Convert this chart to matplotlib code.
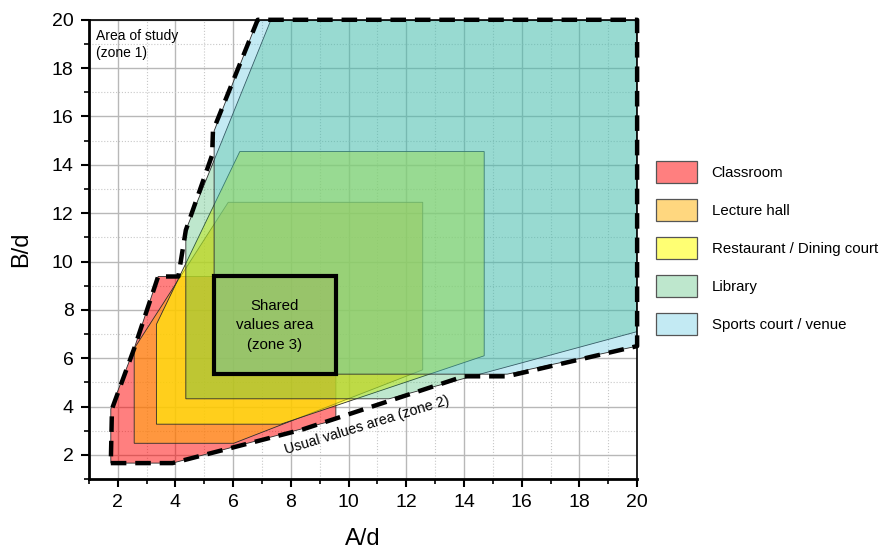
import matplotlib
matplotlib.use('Agg')
import matplotlib.pyplot as plt
from matplotlib.patches import Polygon, Rectangle, Patch
from matplotlib.ticker import MultipleLocator

plt.rcParams['font.family'] = ['Liberation Sans', 'DejaVu Sans']

categories = ['Classroom', 'Lecture hall', 'Restaurant / Dining court',
              'Library', 'Sports court / venue']

# polygon outlines (A/d, B/d) for each space type
classroom_a = [1.76, 3.9, 9.56, 9.56, 3.4, 2.57, 1.76]
classroom_b = [1.66, 1.66, 3.45, 9.38, 9.38, 6.4, 3.9]
lecture_a = [2.57, 6.02, 12.57, 12.57, 5.83, 2.57]
lecture_b = [2.48, 2.48, 5.52, 12.45, 12.45, 6.4]
restaurant_a = [3.34, 7.65, 14.7, 14.7, 6.23, 3.34]
restaurant_b = [3.27, 3.27, 6.1, 14.55, 14.55, 7.4]
library_a = [4.36, 11.4, 20, 20, 7.31, 4.36]
library_b = [4.32, 4.32, 7.1, 20, 20, 11.3]
sports_a = [5.34, 15.5, 20, 20, 6.85, 5.34]
sports_b = [5.34, 5.34, 6.5, 20, 20, 15.4]

# zone boundaries
zone1_a = [1.76, 3.9, 8.4, 14.0, 15.5, 20, 20, 6.85, 5.3, 5.27, 4.36, 4.1, 3.4, 2.57, 1.8, 1.76]
zone1_b = [1.66, 1.66, 3.05, 5.25, 5.25, 6.5, 20, 20, 15.4, 14.4, 11.3, 9.38, 9.38, 6.4, 3.9, 1.66]
zone3_a = [5.34, 9.56]
zone3_b = [5.34, 9.38]

fills = [(1.0, 0.0, 0.0, 0.5),
         (1.0, 0.69, 0.0, 0.5),
         (1.0, 1.0, 0.0, 0.55),
         (55 / 255, 182 / 255, 100 / 255, 0.32),
         (75 / 255, 192 / 255, 220 / 255, 0.33)]
shapes = [(classroom_a, classroom_b), (lecture_a, lecture_b),
          (restaurant_a, restaurant_b), (library_a, library_b),
          (sports_a, sports_b)]

fig = plt.figure(figsize=(8.8, 5.5), dpi=100)
ax = fig.add_axes([0.101, 0.129, 0.623, 0.835])

for (xs, ys), fc in zip(shapes, fills):
    ax.add_patch(Polygon(list(zip(xs, ys)), closed=True, facecolor=fc,
                         edgecolor='#2b2b2b', linewidth=0.6, zorder=2))

ax.add_patch(Rectangle((zone3_a[0], zone3_b[0]), zone3_a[1] - zone3_a[0],
                       zone3_b[1] - zone3_b[0], fill=False,
                       edgecolor='black', linewidth=3, zorder=4))
ax.plot(zone1_a, zone1_b, color='black', linewidth=3.2,
        linestyle=(0, (3.5, 2)), zorder=5, clip_on=False)

ax.text(1.25, 19.6, 'Area of study\n(zone 1)', fontsize=10, va='top', ha='left',
        linespacing=1.25, zorder=6)
ax.text((zone3_a[0] + zone3_a[1]) / 2, (zone3_b[0] + zone3_b[1]) / 2,
        'Shared\nvalues area\n(zone 3)', fontsize=10.8, ha='center', va='center',
        linespacing=1.5, zorder=6)
ax.text(10.65, 3.22, 'Usual values area (zone 2)', fontsize=10.3, ha='center',
        va='center', rotation=17, zorder=6)

ax.set_xlim(1, 20)
ax.set_ylim(1, 20)
ax.xaxis.set_minor_locator(MultipleLocator(1))
ax.yaxis.set_minor_locator(MultipleLocator(1))
ax.set_xticks(range(2, 21, 2))
ax.set_yticks(range(2, 21, 2))
ax.grid(which='major', color='#b8b8b8', linewidth=1.0)
ax.grid(which='minor', color='#c8c8c8', linewidth=0.8, linestyle=':')
ax.set_axisbelow(True)

ax.tick_params(which='major', direction='out', length=6, width=1.5,
               labelsize=14, pad=5)
ax.tick_params(which='minor', direction='out', length=3.5, width=1.2)
for side in ['left', 'bottom']:
    ax.spines[side].set_linewidth(2)
for side in ['top', 'right']:
    ax.spines[side].set_linewidth(1.2)

ax.set_xlabel('A/d', fontsize=17, labelpad=12)
ax.set_ylabel('B/d', fontsize=17, labelpad=14)

handles = [Patch(facecolor=fc, edgecolor='#555555', linewidth=0.9) for fc in fills]
fig.legend(handles, categories, loc='upper left',
           bbox_to_anchor=(656 / 880, 1 - 161 / 550), frameon=False,
           fontsize=10.8, handlelength=2.7, handleheight=1.9,
           handletextpad=1.0, labelspacing=1.05, borderpad=0, borderaxespad=0)

fig.savefig('out.png', dpi=100)
